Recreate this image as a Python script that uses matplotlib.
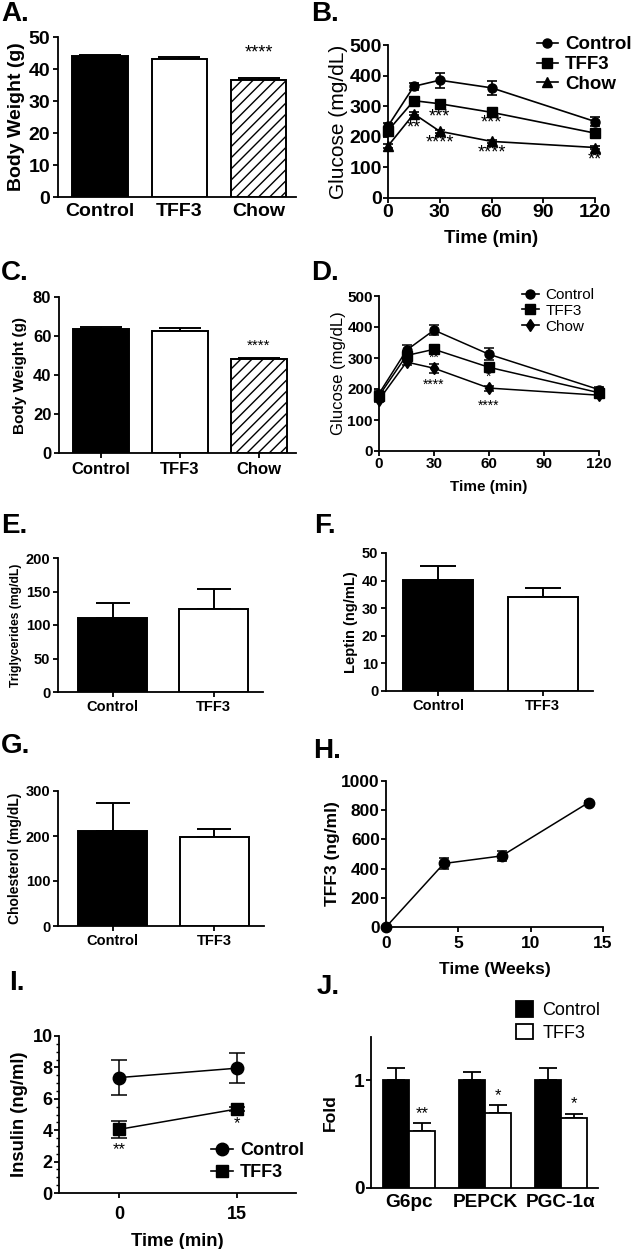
import matplotlib.pyplot as plt
from matplotlib.lines import Line2D
import numpy as np

plt.rcParams['font.family'] = ['Liberation Sans', 'DejaVu Sans']
plt.rcParams['axes.linewidth'] = 1.3
plt.rcParams['hatch.linewidth'] = 1.0
plt.rcParams['xtick.major.width'] = 1.3
plt.rcParams['ytick.major.width'] = 1.3
plt.rcParams['ytick.minor.width'] = 1.0
plt.rcParams['xtick.major.size'] = 3.5
plt.rcParams['ytick.major.size'] = 3.5

# ---- data ----
groups3 = ['Control', 'TFF3', 'Chow']
bw_a = [44.0, 43.0, 36.5]
bw_a_err = [0.5, 0.6, 0.8]
bw_c = [63.5, 62.5, 48.2]
bw_c_err = [1.2, 1.5, 0.7]

gtt_time = [0, 15, 30, 60, 120]
b_control = [235, 365, 385, 360, 250]
b_control_err = [10, 12, 25, 22, 15]
b_tff3 = [220, 318, 308, 280, 212]
b_tff3_err = [8, 6, 12, 12, 6]
b_chow = [170, 275, 218, 185, 165]
b_chow_err = [5, 5, 5, 5, 4]
b_stars = [(15, 228, '**'), (30, 264, '***'), (30, 180, '****'),
           (60, 245, '***'), (60, 147, '****'), (120, 125, '**')]

d_control = [185, 325, 390, 312, 198]
d_control_err = [10, 18, 15, 20, 8]
d_tff3 = [178, 308, 328, 270, 188]
d_tff3_err = [10, 15, 15, 12, 8]
d_chow = [165, 287, 267, 203, 180]
d_chow_err = [8, 10, 15, 8, 6]
d_stars = [(0, 150, '*'), (30, 300, '**'), (30, 214, '****'),
           (60, 238, '*'), (60, 146, '****')]

groups2 = ['Control', 'TFF3']
trig = [111, 124]
trig_err = [22, 30]
leptin = [40.3, 34.1]
leptin_err = [5.0, 3.2]
chol = [211, 197]
chol_err = [62, 18]

weeks = [0, 4, 8, 14]
tff3_serum = [0, 435, 487, 852]
tff3_serum_err = [4, 40, 35, 10]

ins_time = [0, 15]
ins_control = [7.35, 7.95]
ins_control_err = [1.1, 0.95]
ins_tff3 = [4.05, 5.35]
ins_tff3_err = [0.55, 0.15]
ins_stars = [(0, 2.75, '**'), (15, 4.45, '*')]

genes = ['G6pc', 'PEPCK', 'PGC-1\u03b1']
fold_control = [1.0, 1.0, 1.0]
fold_control_err = [0.11, 0.08, 0.11]
fold_tff3 = [0.53, 0.70, 0.65]
fold_tff3_err = [0.07, 0.07, 0.04]
fold_stars = ['**', '*', '*']

W, H = 633, 1249
fig = plt.figure(figsize=(W / 100, H / 100), dpi=100)


def px_axes(left, top, right, bottom):
    return fig.add_axes([left / W, 1 - bottom / H, (right - left) / W, (bottom - top) / H])


def style(ax, fs, pad=1):
    for s in ['top', 'right']:
        ax.spines[s].set_visible(False)
    ax.tick_params(labelsize=fs, pad=pad)
    for lab in ax.get_xticklabels() + ax.get_yticklabels():
        lab.set_fontweight('bold')


def panel_label(x, y, txt):
    fig.text(x / W, 1 - y / H, txt, fontsize=20, fontweight='bold', va='top', ha='left')


def fig_legend(ax, handles, x, y, size, bold, hl, pad, spacing, **kw):
    ax.legend(handles=handles, loc='upper left', bbox_to_anchor=(x / W, 1 - y / H),
              bbox_transform=fig.transFigure, frameon=False, borderaxespad=0, borderpad=0,
              handlelength=hl, handletextpad=pad, labelspacing=spacing,
              prop={'weight': 'bold' if bold else 'normal', 'size': size}, **kw)


def line_handle(mk, ms, lab):
    return Line2D([0], [0], color='black', marker=mk, ms=ms, lw=1.2, label=lab)


def bar_panel(ax, labels, vals, errs, colors, hatches, width, capsize, xlim):
    x = np.arange(len(vals))
    for i in range(len(vals)):
        ax.bar(x[i], vals[i], width=width, color=colors[i], edgecolor='black',
               linewidth=1.4, hatch=hatches[i], zorder=3)
    ax.errorbar(x, vals, yerr=[np.zeros(len(errs)), errs], fmt='none', ecolor='black',
                elinewidth=1.4, capsize=capsize, capthick=1.4, zorder=2)
    ax.set_xticks(x)
    ax.set_xticklabels(labels)
    ax.set_xlim(*xlim)


# ---- A ----
ax = px_axes(58, 37, 296, 197)
bar_panel(ax, groups3, bw_a, bw_a_err, ['black', 'white', 'white'], [None, None, '///'],
          0.7, 15, (-0.53, 2.47))
ax.set_ylim(0, 50)
ax.set_yticks(range(0, 51, 10))
ax.set_ylabel('Body Weight (g)', fontsize=14, fontweight='bold', labelpad=3)
ax.tick_params(axis='x', length=0)
style(ax, 14, pad=2)
ax.tick_params(axis='x', pad=4)
ax.text(2, 45, '****', ha='center', va='center', fontsize=13)
panel_label(1, 1, 'A.')

# ---- B ----
ax = px_axes(388, 45, 595, 198)
for vals, errs, mk in [(b_control, b_control_err, 'o'),
                       (b_tff3, b_tff3_err, 's'),
                       (b_chow, b_chow_err, '^')]:
    ax.errorbar(gtt_time, vals, yerr=errs, color='black', marker=mk, ms=6.5, lw=1.2,
                capsize=3.5, elinewidth=1.2, capthick=1.2, clip_on=False, zorder=3)
for x, y, t in b_stars:
    ax.text(x, y, t, ha='center', va='center', fontsize=13)
ax.set_xlim(0, 120)
ax.set_ylim(0, 500)
ax.set_xticks([0, 30, 60, 90, 120])
ax.set_yticks(range(0, 501, 100))
ax.set_xlabel('Time (min)', fontsize=13.5, fontweight='bold', labelpad=6)
ax.set_ylabel('Glucose (mg/dL)', fontsize=15, labelpad=1)
style(ax, 14)
fig_legend(ax, [line_handle('o', 6.5, 'Control'), line_handle('s', 6.5, 'TFF3'),
                line_handle('^', 6.5, 'Chow')],
           537, 36, 13.5, True, 1.1, 0.4, 0.15)
panel_label(311, 1, 'B.')

# ---- C ----
ax = px_axes(59, 297, 296, 453)
bar_panel(ax, groups3, bw_c, bw_c_err, ['black', 'white', 'white'], [None, None, '///'],
          0.7, 15, (-0.53, 2.47))
ax.set_ylim(0, 80)
ax.set_yticks(range(0, 81, 20))
ax.set_ylabel('Body Weight (g)', fontsize=11, fontweight='bold', labelpad=4)
style(ax, 12, pad=2)
ax.tick_params(axis='x', pad=3)
ax.text(2, 55, '****', ha='center', va='center', fontsize=11)
panel_label(1, 260, 'C.')

# ---- D ----
ax = px_axes(379, 296, 599, 451)
for vals, errs, mk in [(d_control, d_control_err, 'o'),
                       (d_tff3, d_tff3_err, 's'),
                       (d_chow, d_chow_err, 'd')]:
    ax.errorbar(gtt_time, vals, yerr=errs, color='black', marker=mk, ms=6.5, lw=1.1,
                capsize=3.5, elinewidth=1.1, capthick=1.1, clip_on=False, zorder=3)
for x, y, t in d_stars:
    ax.text(x, y, t, ha='center', va='center', fontsize=10)
ax.set_xlim(0, 120)
ax.set_ylim(0, 500)
ax.set_xticks([0, 30, 60, 90, 120])
ax.set_yticks(range(0, 501, 100))
ax.set_xlabel('Time (min)', fontsize=11, fontweight='bold', labelpad=6)
ax.set_ylabel('Glucose (mg/dL)', fontsize=12, labelpad=1)
style(ax, 11)
fig_legend(ax, [line_handle('o', 6.5, 'Control'), line_handle('s', 6.5, 'TFF3'),
                line_handle('d', 6.5, 'Chow')],
           522, 288, 11, False, 1.1, 0.45, 0.12)
panel_label(311, 260, 'D.')

# ---- E ----
ax = px_axes(58, 558, 263, 692)
bar_panel(ax, groups2, trig, trig_err, ['black', 'white'], [None, None], 0.68, 12,
          (-0.54, 1.49))
ax.set_ylim(0, 200)
ax.set_yticks(range(0, 201, 50))
ax.set_ylabel('Triglycerides (mg/dL)', fontsize=8.7, fontweight='bold', labelpad=3)
style(ax, 10.5, pad=2)
panel_label(1, 513, 'E.')

# ---- F ----
ax = px_axes(386, 553, 593, 691)
bar_panel(ax, groups2, leptin, leptin_err, ['black', 'white'], [None, None], 0.67, 13,
          (-0.5, 1.48))
ax.set_ylim(0, 50)
ax.set_yticks(range(0, 51, 10))
ax.set_ylabel('Leptin (ng/mL)', fontsize=10.5, fontweight='bold', labelpad=3)
style(ax, 10.5, pad=2)
panel_label(314, 513, 'F.')

# ---- G ----
ax = px_axes(58, 791, 264, 926)
bar_panel(ax, groups2, chol, chol_err, ['black', 'white'], [None, None], 0.68, 12,
          (-0.54, 1.49))
ax.set_ylim(0, 300)
ax.set_yticks(range(0, 301, 100))
ax.set_ylabel('Cholesterol (mg/dL)', fontsize=10, fontweight='bold', labelpad=3)
style(ax, 10.5, pad=2)
panel_label(1, 733, 'G.')

# ---- H ----
ax = px_axes(386, 781, 603, 927)
ax.errorbar(weeks, tff3_serum, yerr=tff3_serum_err, color='black', marker='o', ms=7.5,
            lw=1.1, capsize=3.5, elinewidth=1.1, capthick=1.1, clip_on=False, zorder=3)
ax.set_xlim(0, 15)
ax.set_ylim(0, 1000)
ax.set_xticks([0, 5, 10, 15])
ax.set_yticks(range(0, 1001, 200))
ax.set_xlabel('Time (Weeks)', fontsize=12.5, fontweight='bold', labelpad=8)
ax.set_ylabel('TFF3 (ng/ml)', fontsize=12.5, fontweight='bold', labelpad=1)
style(ax, 12.5)
ax.tick_params(axis='x', pad=3)
panel_label(313, 738, 'H.')

# ---- I ----
ax = px_axes(59, 1036, 296, 1193)
for vals, errs, mk in [(ins_control, ins_control_err, 'o'),
                       (ins_tff3, ins_tff3_err, 's')]:
    ax.errorbar(ins_time, vals, yerr=errs, color='black', marker=mk, ms=9, lw=1.1,
                capsize=5.5, elinewidth=1.1, capthick=1.1, zorder=3)
for x, y, t in ins_stars:
    ax.text(x, y, t, ha='center', va='center', fontsize=12)
ax.set_xlim(-7.6, 22.5)
ax.set_ylim(0, 10)
ax.set_xticks([0, 15])
ax.set_yticks(range(0, 11, 2))
ax.set_yticks(np.arange(0, 10.01, 0.5), minor=True)
ax.tick_params(axis='y', which='minor', length=2)
ax.set_xlabel('Time (min)', fontsize=13.3, fontweight='bold', labelpad=7)
ax.set_ylabel('Insulin (ng/ml)', fontsize=13.3, fontweight='bold', labelpad=3)
style(ax, 13)
ax.tick_params(axis='x', pad=6)
fig_legend(ax, [line_handle('o', 9, 'Control'), line_handle('s', 9, 'TFF3')],
           211, 1142, 13, True, 1.2, 0.4, 0.3)
panel_label(9, 970, 'I.')

# ---- J ----
ax = px_axes(371, 1037, 598, 1188)
xg = np.arange(len(genes))
bw = 0.34
ax.bar(xg - bw / 2, fold_control, width=bw, color='black', edgecolor='black',
       linewidth=1.3, label='Control', zorder=3)
ax.bar(xg + bw / 2, fold_tff3, width=bw, color='white', edgecolor='black',
       linewidth=1.3, label='TFF3', zorder=3)
ax.errorbar(xg - bw / 2, fold_control, yerr=[np.zeros(3), fold_control_err], fmt='none',
            ecolor='black', elinewidth=1.3, capsize=6.5, capthick=1.3, zorder=2)
ax.errorbar(xg + bw / 2, fold_tff3, yerr=[np.zeros(3), fold_tff3_err], fmt='none',
            ecolor='black', elinewidth=1.3, capsize=6.5, capthick=1.3, zorder=2)
for i, t in enumerate(fold_stars):
    ax.text(xg[i] + bw / 2, fold_tff3[i] + fold_tff3_err[i] + 0.02, t, ha='center',
            va='bottom', fontsize=12)
ax.set_xlim(-0.5, 2.49)
ax.set_ylim(0, 1.4)
ax.set_xticks(xg)
ax.set_xticklabels(genes)
ax.set_yticks([0, 1])
ax.tick_params(axis='x', length=0)
ax.set_ylabel('Fold', fontsize=12.6, fontweight='bold', labelpad=12)
style(ax, 13.7)
ax.tick_params(axis='x', pad=4)
ax.legend(loc='upper left', bbox_to_anchor=(516 / W, 1 - 1001 / H),
          bbox_transform=fig.transFigure, frameon=False, borderaxespad=0, borderpad=0,
          handlelength=0.95, handleheight=0.95, handletextpad=0.5, labelspacing=0.25,
          prop={'size': 13})
panel_label(317, 974, 'J.')

fig.savefig('out.png', dpi=100)
